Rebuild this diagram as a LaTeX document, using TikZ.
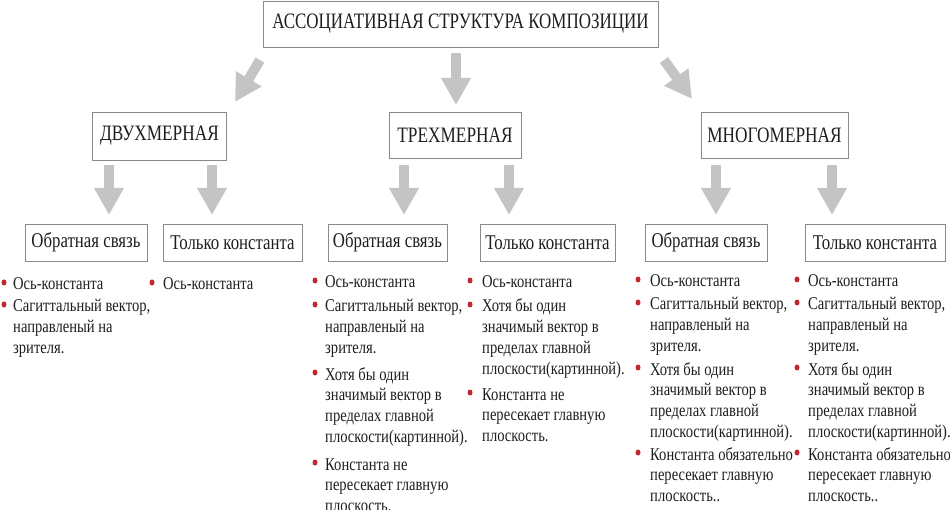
\documentclass[tikz,border=0pt]{standalone}
\usepackage{fontspec}
\setmainfont{Liberation Serif}[FakeStretch=0.81]
\newfontfamily\titlefont{Liberation Serif}[FakeStretch=0.772]
\newfontfamily\midfont{Liberation Serif}[FakeStretch=0.785]
\newfontfamily\lowfont{Liberation Serif}[FakeStretch=0.8]
\usetikzlibrary{arrows.meta}
\definecolor{arrowgray}{HTML}{C4C4C4}
\definecolor{boxgray}{HTML}{8A8A8A}
\definecolor{bulletred}{HTML}{C0282D}
\definecolor{txt}{HTML}{1E1E1E}
\newcommand{\itm}[1]{\begin{tabular}[t]{@{}l@{}}#1\end{tabular}}
\begin{document}
\begin{tikzpicture}[x=1pt,y=-1pt,
  box/.style={draw=boxgray, line width=0.8pt, fill=white, inner sep=0pt, text=txt},
  topbox/.style={box, font=\titlefont\fontsize{22}{24}\selectfont},
  midbox/.style={box, font=\midfont\fontsize{22}{24}\selectfont},
  lowbox/.style={box, font=\lowfont\fontsize{21}{24}\selectfont, minimum height=37pt},
  blockarrow/.style={draw=arrowgray, line width=10pt, -{Triangle[width=28pt,length=27pt]}},
  item/.style={anchor=base west, inner sep=0pt, text=txt, font=\fontsize{18}{20.8}\selectfont},
  dot/.style={fill=bulletred}
]
\useasboundingbox (0,0) rectangle (950,510);
% boxes
\node[topbox, minimum width=395pt, minimum height=46pt] (title) at (460.5,24) {АССОЦИАТИВНАЯ СТРУКТУРА КОМПОЗИЦИИ};
\node[midbox, minimum width=134pt, minimum height=48pt] (two) at (159.5,136) {ДВУХМЕРНАЯ};
\node[midbox, minimum width=132pt, minimum height=46pt] (three) at (455,135.5) {ТРЕХМЕРНАЯ};
\node[midbox, minimum width=147pt, minimum height=46pt] (multi) at (774.5,135.5) {МНОГОМЕРНАЯ};
\node[lowbox, minimum width=122pt] (twoA) at (86,242.5) {Обратная связь};
\node[lowbox, minimum width=139pt] (twoB) at (232.5,242.5) {Только константа};
\node[lowbox, minimum width=119pt] (threeA) at (387.5,242.5) {Обратная связь};
\node[lowbox, minimum width=135pt] (threeB) at (547.5,242.5) {Только константа};
\node[lowbox, minimum width=122pt] (multiA) at (706,242.5) {Обратная связь};
\node[lowbox, minimum width=140pt] (multiB) at (875,242.5) {Только константа};
% arrow end points
\coordinate (l1s) at (260,60);  \coordinate (l1e) at (235,102);
\coordinate (c1s) at (456,53);  \coordinate (c1e) at (456,105);
\coordinate (r1s) at (664,60);  \coordinate (r1e) at (692,99);
\foreach \n/\x in {twoAa/109, twoBa/212, threeAa/404, threeBa/509, multiAa/716, multiBa/832}{
  \coordinate (\n s) at (\x,165); \coordinate (\n e) at (\x,215);
}
\draw[blockarrow] (l1s) -- (l1e);
\draw[blockarrow] (c1s) -- (c1e);
\draw[blockarrow] (r1s) -- (r1e);
\foreach \n in {twoAa, twoBa, threeAa, threeBa, multiAa, multiBa}{
  \draw[blockarrow] (\n s) -- (\n e);
}
% items
\node[item] (i11) at (13,290) {\itm{Ось-константа}};
\node[item] (i12) at (13,312) {\itm{Сагиттальный вектор,\\направленый на\\зрителя.}};
\node[item] (i21) at (163,290) {\itm{Ось-константа}};
\node[item] (i31) at (325,288) {\itm{Ось-константа}};
\node[item] (i32) at (325,312) {\itm{Сагиттальный вектор,\\направленый на\\зрителя.}};
\node[item] (i33) at (325,380) {\itm{Хотя бы один\\значимый вектор в\\пределах главной\\плоскости(картинной).}};
\node[item] (i34) at (325,470) {\itm{Константа не\\пересекает главную\\плоскость.}};
\node[item] (i41) at (482,288) {\itm{Ось-константа}};
\node[item] (i42) at (482,312) {\itm{Хотя бы один\\значимый вектор в\\пределах главной\\плоскости(картинной).}};
\node[item] (i43) at (482,400) {\itm{Константа не\\пересекает главную\\плоскость.}};
\node[item] (i51) at (650,287) {\itm{Ось-константа}};
\node[item] (i52) at (650,310) {\itm{Сагиттальный вектор,\\направленый на\\зрителя.}};
\node[item] (i53) at (650,375) {\itm{Хотя бы один\\значимый вектор в\\пределах главной\\плоскости(картинной).}};
\node[item] (i54) at (650,460) {\itm{Константа обязательно\\пересекает главную\\плоскость..}};
\node[item] (i61) at (808,287) {\itm{Ось-константа}};
\node[item] (i62) at (808,310) {\itm{Сагиттальный вектор,\\направленый на\\зрителя.}};
\node[item] (i63) at (808,375) {\itm{Хотя бы один\\значимый вектор в\\пределах главной\\плоскости(картинной).}};
\node[item] (i64) at (808,460) {\itm{Константа обязательно\\пересекает главную\\плоскость..}};
% bullets
\foreach \x/\y in {4/290, 4/312, 152/290,
  315/288, 315/312, 315/380, 315/470,
  470/288, 470/312, 470/400,
  638/287, 638/310, 638/375, 638/460,
  797/287, 797/310, 797/375, 797/460}{
  \fill[dot] (\x,\y-7.5) ellipse (2.5 and 3);
}
\end{tikzpicture}
\end{document}
